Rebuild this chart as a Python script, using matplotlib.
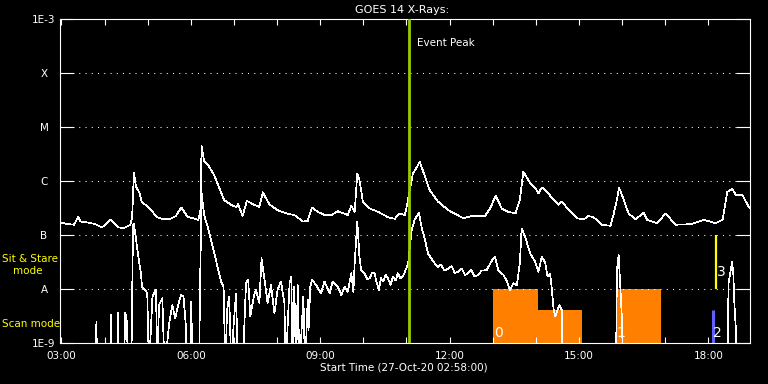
import matplotlib
matplotlib.use("Agg")
import matplotlib.pyplot as plt
import numpy as np
from matplotlib.ticker import FixedLocator, FuncFormatter

# time in decimal hours (27-Oct-20), value = log10 of flux in W/m^2
# dropouts (below 1E-9) are given as -9.5
long_obs = [
    (2.97, -6.77), (3.17, -6.80), (3.29, -6.81), (3.39, -6.66), (3.44, -6.75), (3.63, -6.77),
    (3.79, -6.80), (3.94, -6.86), (4.14, -6.72), (4.33, -6.86), (4.45, -6.87), (4.60, -6.81),
    (4.64, -6.66), (4.68, -5.85), (4.73, -6.11), (4.80, -6.20), (4.87, -6.40), (4.99, -6.46),
    (5.22, -6.67), (5.34, -6.70), (5.53, -6.70), (5.65, -6.65), (5.78, -6.49), (5.92, -6.66),
    (6.17, -6.72), (6.22, -6.59), (6.25, -5.35), (6.31, -5.64), (6.39, -5.69), (6.54, -5.89),
    (6.77, -6.35), (6.93, -6.44), (7.05, -6.48), (7.10, -6.43), (7.20, -6.65), (7.30, -6.37),
    (7.47, -6.44), (7.59, -6.48), (7.67, -6.21), (7.82, -6.43), (8.01, -6.54), (8.21, -6.60),
    (8.40, -6.63), (8.60, -6.75), (8.71, -6.74), (8.81, -6.49), (8.94, -6.57), (9.10, -6.63),
    (9.26, -6.63), (9.41, -6.56), (9.64, -6.63), (9.72, -6.46), (9.80, -6.57), (9.86, -5.86),
    (9.91, -5.98), (9.99, -6.38), (10.15, -6.51), (10.34, -6.57), (10.57, -6.67), (10.73, -6.70),
    (10.84, -6.60), (10.96, -6.63), (11.01, -6.46), (11.05, -6.29), (11.15, -5.86), (11.23, -5.76),
    (11.31, -5.64), (11.39, -5.83), (11.54, -6.17), (11.73, -6.38), (11.97, -6.54), (12.32, -6.69),
    (12.51, -6.65), (12.82, -6.65), (12.94, -6.51), (13.07, -6.27), (13.21, -6.51), (13.36, -6.57),
    (13.53, -6.60), (13.63, -6.35), (13.71, -5.83), (13.87, -6.04), (14.02, -6.17), (14.06, -6.23),
    (14.14, -6.12), (14.26, -6.20), (14.41, -6.35), (14.53, -6.44), (14.60, -6.38), (14.80, -6.57),
    (14.95, -6.69), (15.11, -6.71), (15.22, -6.65), (15.34, -6.67), (15.53, -6.81), (15.73, -6.83),
    (15.80, -6.63), (15.88, -6.35), (15.93, -6.12), (16.04, -6.35), (16.15, -6.60), (16.31, -6.71),
    (16.50, -6.59), (16.58, -6.72), (16.81, -6.78), (16.89, -6.71), (17.01, -6.60), (17.24, -6.81),
    (17.59, -6.80), (17.90, -6.72), (18.17, -6.78), (18.33, -6.72), (18.44, -6.20), (18.56, -6.15),
    (18.64, -6.26), (18.79, -6.26), (18.91, -6.44), (18.97, -6.51),
]

short_obs = [
    (2.97, -9.5), (3.80, -9.5), (3.81, -8.61), (3.83, -9.5), (4.12, -9.5), (4.15, -8.48),
    (4.17, -9.5), (4.29, -9.5), (4.31, -8.44), (4.34, -9.5), (4.45, -9.5), (4.48, -8.44),
    (4.52, -8.61), (4.54, -9.5), (4.62, -9.5), (4.66, -6.81), (4.68, -6.80), (4.73, -7.09),
    (4.80, -7.49), (4.84, -7.70), (4.87, -7.96), (4.95, -8.02), (4.99, -8.08), (5.03, -9.5),
    (5.11, -8.14), (5.19, -8.02), (5.23, -9.5), (5.26, -8.30), (5.34, -8.17), (5.39, -9.5),
    (5.50, -8.63), (5.57, -8.30), (5.64, -8.54), (5.68, -8.39), (5.77, -8.11), (5.83, -8.14),
    (5.88, -8.63), (5.91, -9.5), (5.99, -9.5), (6.01, -8.24), (6.04, -9.5), (6.19, -9.5),
    (6.22, -7.68), (6.25, -6.23), (6.31, -6.63), (6.39, -6.85), (6.50, -7.19), (6.62, -7.59),
    (6.70, -7.86), (6.76, -7.96), (6.80, -9.5), (6.84, -8.39), (6.89, -8.14), (6.94, -9.5),
    (6.99, -8.70), (7.05, -8.08), (7.09, -9.5), (7.22, -9.5), (7.24, -8.70), (7.28, -7.89),
    (7.33, -7.83), (7.38, -8.51), (7.46, -8.14), (7.51, -8.02), (7.59, -8.26), (7.64, -7.43),
    (7.70, -7.77), (7.78, -8.26), (7.86, -7.93), (7.94, -8.45), (8.01, -8.02), (8.09, -7.86),
    (8.17, -8.26), (8.20, -9.5), (8.29, -7.89), (8.33, -7.77), (8.36, -9.5), (8.40, -7.96),
    (8.44, -9.5), (8.48, -7.93), (8.52, -9.5), (8.61, -8.14), (8.65, -9.5), (8.71, -8.20),
    (8.73, -8.76), (8.77, -7.96), (8.81, -7.83), (8.91, -7.93), (9.02, -8.08), (9.10, -7.86),
    (9.22, -8.08), (9.29, -7.86), (9.41, -7.96), (9.49, -8.11), (9.57, -7.96), (9.64, -8.05),
    (9.72, -7.71), (9.77, -8.05), (9.80, -7.52), (9.86, -6.75), (9.91, -7.40), (9.95, -7.65),
    (10.03, -7.71), (10.09, -7.82), (10.15, -7.80), (10.20, -7.70), (10.26, -7.71), (10.31, -7.88),
    (10.36, -8.02), (10.41, -7.80), (10.46, -7.86), (10.52, -7.74), (10.57, -7.80), (10.63, -7.92),
    (10.69, -7.77), (10.75, -7.84), (10.80, -7.71), (10.86, -7.80), (10.92, -7.77), (11.01, -7.59),
    (11.04, -7.52), (11.12, -6.91), (11.19, -6.72), (11.29, -6.59), (11.35, -6.85), (11.43, -7.09),
    (11.50, -7.34), (11.62, -7.49), (11.73, -7.59), (11.80, -7.55), (11.88, -7.66), (11.97, -7.62),
    (12.05, -7.58), (12.12, -7.70), (12.20, -7.68), (12.28, -7.62), (12.36, -7.74), (12.43, -7.71),
    (12.50, -7.64), (12.58, -7.77), (12.67, -7.74), (12.74, -7.66), (12.86, -7.65), (12.99, -7.46),
    (13.05, -7.40), (13.13, -7.65), (13.25, -7.74), (13.33, -7.86), (13.40, -8.02), (13.48, -7.89),
    (13.56, -7.93), (13.63, -7.52), (13.67, -6.88), (13.75, -7.03), (13.87, -7.34), (13.98, -7.49),
    (14.06, -7.68), (14.14, -7.40), (14.22, -7.52), (14.27, -7.77), (14.33, -7.71), (14.37, -7.99),
    (14.41, -8.36), (14.45, -8.51), (14.50, -8.39), (14.55, -8.30), (14.60, -8.39), (14.62, -9.5),
    (15.86, -9.5), (15.88, -7.65), (15.92, -7.37), (15.96, -7.96), (16.00, -8.61), (16.02, -9.5),
    (18.44, -9.5), (18.47, -7.89), (18.52, -7.65), (18.55, -7.49), (18.58, -7.71), (18.60, -8.20),
    (18.64, -8.76), (18.67, -9.5), (18.97, -9.5),
]

# raster blocks (scan mode), hours and top in log10 units
scan_start = [13.00, 14.05, 15.85]
scan_end = [14.05, 15.07, 16.90]
scan_top = [-8.0, -8.39, -8.0]
block_ids = ["0", "", "1"]

# extra single observations
obs2_time, obs2_lo, obs2_hi = 18.10, -9.0, -8.39
obs3_time, obs3_lo, obs3_hi = 18.17, -8.0, -7.0

event_peak = 11.05
start_hour = 2 + 58 / 60.0
end_hour = 18 + 58 / 60.0

level_vals = [-9, -8, -7, -6, -5, -4, -3]
level_names = ["1E-9", "A", "B", "C", "M", "X", "1E-3"]

t_long, lg_long = zip(*long_obs)
t_short, lg_short = zip(*short_obs)

fig = plt.figure(figsize=(7.68, 3.84), dpi=100, facecolor="black")
ax = fig.add_axes([60 / 768, 41 / 384, 690 / 768, 324 / 384])
ax.set_facecolor("black")
ax.set_yscale("log")
ax.set_xlim(start_hour, end_hour)
ax.set_ylim(1e-9, 1e-3)

orange = "#ff8000"
for s, e, top in zip(scan_start, scan_end, scan_top):
    ax.fill_between([s, e], 1e-10, 10 ** top, color=orange, lw=0, zorder=1)
for s, lab in zip(scan_start, block_ids):
    if lab:
        ax.text(s + 0.03, 10 ** -8.82, lab, color="white", fontsize=10,
                ha="left", va="center", zorder=4)

ax.vlines(obs2_time, 10 ** obs2_lo, 10 ** obs2_hi, color="#6060ff", lw=2.2, zorder=2)
ax.text(obs2_time + 0.02, 10 ** -8.81, "2", color="white", fontsize=10,
        ha="left", va="center", zorder=4)
ax.vlines(obs3_time, 10 ** obs3_lo, 10 ** obs3_hi, color="#ffff00", lw=1.6, zorder=2)
ax.text(obs3_time + 0.02, 10 ** -7.69, "3", color="white", fontsize=10,
        ha="left", va="center", zorder=4)

# dotted levels
for lv in level_vals[1:-1]:
    ax.axhline(10 ** lv, color="white", lw=0.75, ls=(0, (1, 5)), zorder=1.5)

ax.plot(t_long, 10 ** np.array(lg_long), color="white", lw=0.5, zorder=3, antialiased=False)
ax.plot(t_short, 10 ** np.array(lg_short), color="white", lw=0.5, zorder=3, antialiased=False)

ax.axvline(event_peak, color="#99cc00", lw=2.0, zorder=5)
ax.text(event_peak + 0.2, 10 ** -3.45, "Event Peak", color="white", fontsize=7.5,
        ha="left", va="center")

for sp in ax.spines.values():
    sp.set_color("white")
    sp.set_linewidth(0.8)

ax.yaxis.set_major_locator(FixedLocator([10.0 ** v for v in level_vals]))
ax.yaxis.set_minor_locator(FixedLocator([]))
ax.set_yticklabels(level_names)
ax.tick_params(axis="y", which="major", direction="in", length=10, width=0.8,
               color="white", labelcolor="white", labelsize=7.5, right=True, pad=11.5)
for lab in ax.get_yticklabels():
    lab.set_ha("center")

hours = list(range(3, 19))
ax.xaxis.set_major_locator(FixedLocator(hours))
ax.xaxis.set_major_formatter(FuncFormatter(lambda v, p: "%02d:00" % v if int(round(v)) % 3 == 0 else ""))
ax.tick_params(axis="x", which="major", direction="in", length=4, width=0.8,
               color="white", labelcolor="white", labelsize=7.5, top=True, pad=6)

fig.text(402 / 768, 1 - 10 / 384, "GOES 14 X-Rays:", color="white", fontsize=8,
         ha="center", va="center")
fig.text(404 / 768, 1 - 368 / 384, "Start Time (27-Oct-20 02:58:00)", color="white",
         fontsize=7.5, ha="center", va="center")
fig.text(2 / 768, 1 - 259 / 384, "Sit & Stare", color="yellow", fontsize=7.5,
         ha="left", va="center")
fig.text(13 / 768, 1 - 271 / 384, "mode", color="yellow", fontsize=7.5,
         ha="left", va="center")
fig.text(2 / 768, 1 - 324 / 384, "Scan mode", color="yellow", fontsize=7.5,
         ha="left", va="center")

fig.savefig("out.png", dpi=100, facecolor="black")
